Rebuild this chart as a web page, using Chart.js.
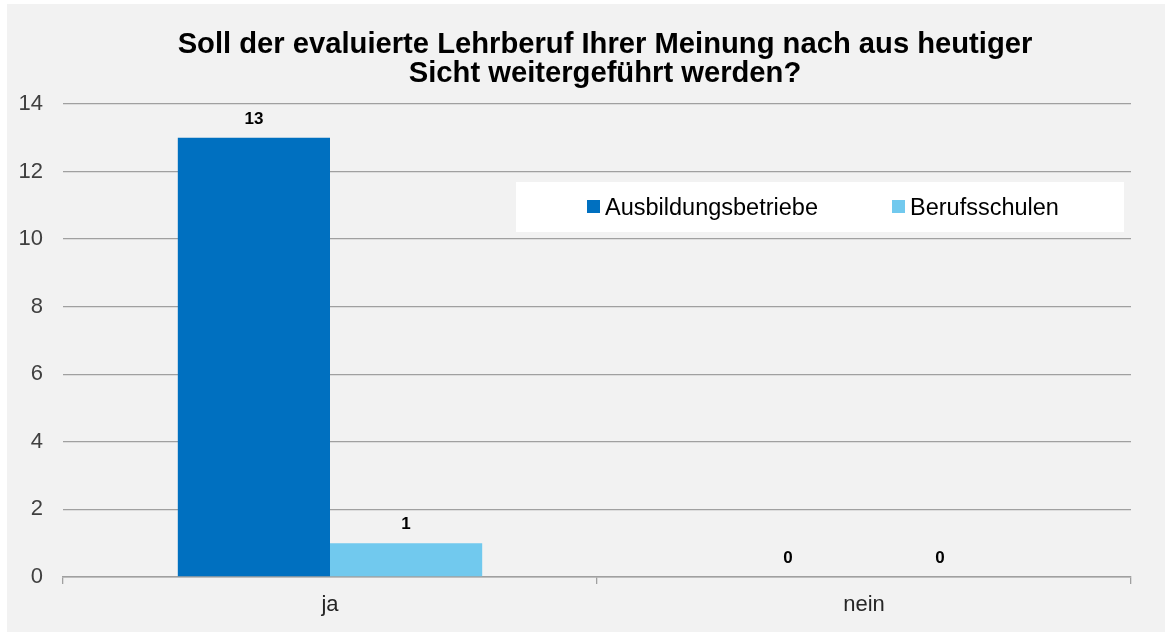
<!DOCTYPE html>
<html>
<head>
<meta charset="utf-8">
<script src="https://cdn.jsdelivr.net/npm/chart.js@4"></script>
<style>
  html, body { margin: 0; padding: 0; background: #ffffff; }
  #wrap { position: absolute; left: 7px; top: 4px; width: 1158px; height: 628px; background: #f2f2f2; }
  canvas { display: block; }
</style>
</head>
<body>
<div id="wrap"><canvas id="c" width="1158" height="628"></canvas></div>
<script>
const titleLines = ["Soll der evaluierte Lehrberuf Ihrer Meinung nach aus heutiger", "Sicht weitergeführt werden?"];
const categories = ["ja", "nein"];
const seriesNames = ["Ausbildungsbetriebe", "Berufsschulen"];
const ausbildungsbetriebe = [13, 0];
const berufsschulen = [1, 0];
const yTicks = [0, 2, 4, 6, 8, 10, 12, 14];
const colors = ["#0070C0", "#71C9EE"];

const FONT = "'Liberation Sans', Arial, Helvetica, sans-serif";

const titlePlugin = {
  id: 'customTitle',
  afterDraw(chart) {
    const ctx = chart.ctx;
    ctx.save();
    ctx.fillStyle = '#000000';
    ctx.font = 'bold 29.2px ' + FONT;
    ctx.textAlign = 'center';
    ctx.textBaseline = 'alphabetic';
    ctx.fillText(titleLines[0], 598, 49);
    ctx.fillText(titleLines[1], 598, 78);
    ctx.restore();
  }
};

const legendPlugin = {
  id: 'customLegend',
  afterDatasetsDraw(chart) {
    const ctx = chart.ctx;
    ctx.save();
    ctx.fillStyle = '#ffffff';
    ctx.fillRect(509, 178, 608, 50);
    const items = [
      { sx: 580, tx: 598 },
      { sx: 885, tx: 903 }
    ];
    chart.data.datasets.forEach((ds, i) => {
      ctx.fillStyle = ds.backgroundColor;
      ctx.fillRect(items[i].sx, 196, 13, 13);
      ctx.fillStyle = '#000000';
      ctx.font = '23.5px ' + FONT;
      ctx.textAlign = 'left';
      ctx.textBaseline = 'alphabetic';
      ctx.fillText(ds.label, items[i].tx, 211);
    });
    ctx.restore();
  }
};

const labelPlugin = {
  id: 'barLabels',
  afterDatasetsDraw(chart) {
    const ctx = chart.ctx;
    ctx.save();
    ctx.fillStyle = '#000000';
    ctx.font = 'bold 17px ' + FONT;
    ctx.textAlign = 'center';
    ctx.textBaseline = 'alphabetic';
    chart.data.datasets.forEach((ds, i) => {
      const meta = chart.getDatasetMeta(i);
      meta.data.forEach((bar, j) => {
        ctx.fillText(String(ds.data[j]), bar.x, bar.y - 14);
      });
    });
    ctx.restore();
  }
};

new Chart(document.getElementById('c'), {
  type: 'bar',
  data: {
    labels: categories,
    datasets: [
      { label: seriesNames[0], data: ausbildungsbetriebe, backgroundColor: colors[0], categoryPercentage: 0.57, barPercentage: 1.0, borderWidth: 0 },
      { label: seriesNames[1], data: berufsschulen, backgroundColor: colors[1], categoryPercentage: 0.57, barPercentage: 1.0, borderWidth: 0 }
    ]
  },
  options: {
    responsive: false,
    animation: false,
    devicePixelRatio: 1,
    layout: { padding: { top: 100, right: 34, left: 0, bottom: 0 } },
    plugins: {
      legend: { display: false },
      title: { display: false },
      tooltip: { enabled: false }
    },
    scales: {
      x: {
        afterFit(s) { s.height = 55; },
        grid: { display: true, drawOnChartArea: false, drawTicks: true, tickLength: 7, offset: true, color: '#a0a0a0', lineWidth: 1.3 },
        border: { display: true, color: '#a0a0a0', width: 1.5 },
        ticks: { color: '#262626', font: { size: 22, family: FONT }, padding: 8 }
      },
      y: {
        min: 0,
        max: 14,
        afterFit(s) { s.width = 56; },
        afterBuildTicks(s) { s.ticks = yTicks.map(v => ({ value: v })); },
        grid: { color: '#a0a0a0', lineWidth: 1.3, drawTicks: false },
        border: { display: false },
        ticks: { stepSize: 2, color: '#404040', font: { size: 22, family: FONT }, padding: 20 }
      }
    }
  },
  plugins: [titlePlugin, legendPlugin, labelPlugin]
});
</script>
</body>
</html>
